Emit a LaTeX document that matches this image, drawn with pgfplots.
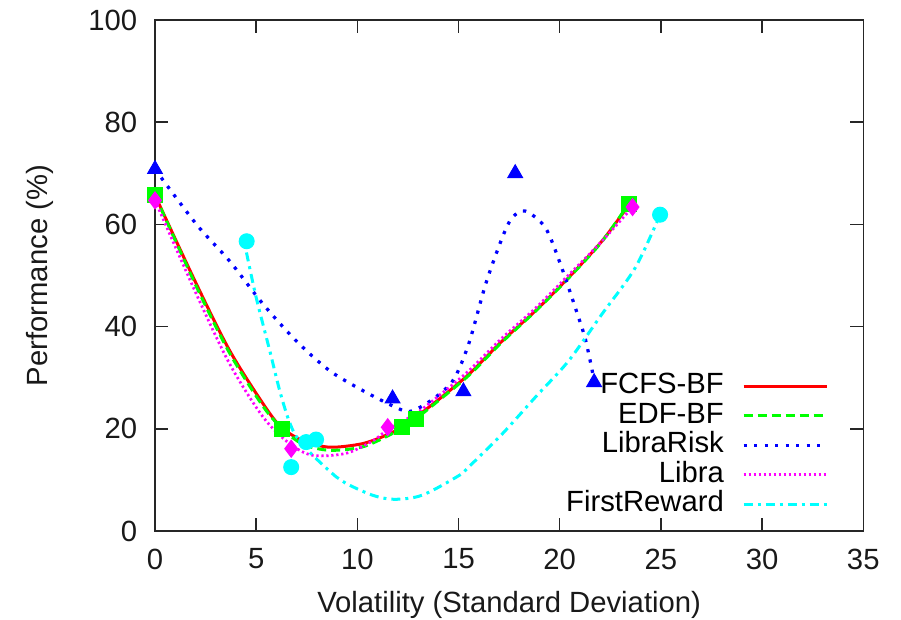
\documentclass[border=0pt]{standalone}
\usepackage{pgfplots}
\pgfplotsset{compat=1.18}
\usepackage{fontspec}
\setmainfont{Liberation Sans}

\definecolor{gpred}{RGB}{255,0,0}
\definecolor{gpgreen}{RGB}{0,255,0}
\definecolor{gpblue}{RGB}{0,0,255}
\definecolor{gpmagenta}{RGB}{255,0,255}
\definecolor{gpcyan}{RGB}{0,255,255}

% gnuplot-like styles
\tikzset{
  fcfs/.style={gpred, line width=1.2pt, solid},
  edf/.style={gpgreen, line width=1.2pt, dash pattern=on 3.6pt off 2pt},
  lrisk/.style={gpblue, line width=1.3pt, dash pattern=on 1.3pt off 2.9pt},
  libra/.style={gpmagenta, line width=1.1pt, dash pattern=on 0.9pt off 1.1pt},
  frew/.style={gpcyan, line width=1.2pt, dash pattern=on 3.6pt off 2pt on 1.2pt off 2pt},
}

\begin{document}
\begin{tikzpicture}
  \begin{axis}[
      scale only axis,
      width=283.3pt, height=204.4pt,
      xmin=0, xmax=35, ymin=0, ymax=100,
      xtick={0,5,...,35}, ytick={0,20,...,100},
      tick align=inside, major tick length=5.2pt,
      axis line style={black!85, line width=0.6pt},
      every tick/.style={black!85, line width=0.6pt},
      /pgf/number format/assume math mode=true,
      tick label style={font=\fontsize{11.7}{13.5}\selectfont, black!90},
      label style={font=\fontsize{11.7}{13.5}\selectfont, black!90},
      xticklabel style={yshift=-3.6pt},
      yticklabel style={xshift=-3.6pt},
      xlabel={Volatility (Standard Deviation)},
      ylabel={Performance (\%)},
      xlabel style={yshift=-2pt},
      ylabel style={yshift=7pt},
      legend style={at={(axis cs:33.7,32.3)}, anchor=north east, draw=none, fill=none,
        font=\fontsize{11.7}{13.5}\selectfont, row sep=0pt, column sep=6.8pt,
        nodes={inner sep=0.45pt, text height=8.5pt, text depth=2.4pt}},
      legend cell align=right,
      legend plot pos=right,
      legend image code/.code={\draw[#1] (0pt,0pt) -- (33.5pt,0pt);},
    ]
    % FCFS-BF
    \addplot[fcfs, smooth, no marks] coordinates {
      (0,65.7) (2.05,48.3) (3.69,35.3) (5.34,24.9) (6.24,20.3) (7.3,17.7) (8.62,16.4)
      (10.26,17.1) (11.58,19.0) (12.15,20.3) (12.8,22.0) (14.04,25.8) (15.52,30.7)
      (17.16,37.2) (18.8,43.1) (20.44,49.6) (22.08,56.7) (23.4,63.7)};
    \addlegendentry{FCFS-BF}
    % EDF-BF
    \addplot[edf, smooth, no marks] coordinates {
      (0,65.7) (2.05,47.8) (3.69,34.8) (5.34,24.4) (6.3,20.0) (7.3,17.0) (8.6,15.8)
      (10.2,16.4) (11.5,18.6) (12.23,20.3) (12.9,22.0) (14.04,25.6) (15.52,30.5)
      (17.16,37.0) (18.8,43.0) (20.44,49.5) (22.08,56.6) (23.4,64.0)};
    \addlegendentry{EDF-BF}
    \addplot[only marks, mark=square*, mark size=3pt, gpgreen, forget plot] coordinates {
      (0,65.7) (6.3,20.0) (12.23,20.3) (12.9,22.0) (23.4,64.0)};
    % LibraRisk
    \addplot[lrisk, smooth, no marks] coordinates {
      (0,70.8) (2.05,60.0) (3.69,52.8) (5.34,44.4) (6.98,37.2) (8.62,31.4) (10.26,27.5)
      (11.9,24.2) (12.6,23.4) (13.55,25.3) (14.7,29.3) (15.5,36.6) (16.34,48.3)
      (17.16,57.4) (17.65,61.3) (18.3,62.6) (19.3,59.3) (20.1,51.5) (20.77,43.7)
      (21.27,37.5) (21.7,29.5)};
    \addlegendentry{LibraRisk}
    \addplot[only marks, mark=triangle*, mark size=3.4pt, gpblue, forget plot] coordinates {
      (0,70.8) (11.74,25.9) (15.24,27.3) (17.8,70.0) (21.7,29.1)};
    % Libra
    \addplot[libra, smooth, no marks] coordinates {
      (0,64.7) (2.05,46.3) (3.69,32.7) (5.34,22.3) (6.65,17.1) (7.8,14.8) (9.44,15.2)
      (10.75,17.6) (11.5,19.8) (12.9,23.0) (14.04,26.5) (15.52,31.4) (17.16,37.8)
      (18.8,43.6) (20.44,50.1) (22.08,56.7) (23.6,63.4)};
    \addlegendentry{Libra}
    \addplot[only marks, mark=diamond*, mark size=3.4pt, gpmagenta, forget plot] coordinates {
      (0,64.7) (6.73,16.1) (11.5,20.3) (23.6,63.4)};
    % FirstReward
    \addplot[frew, smooth, no marks] coordinates {
      (4.52,54.5) (5.0,45.7) (5.67,35.3) (6.16,27.5) (6.6,21.8) (7.0,18.4) (7.8,14.8)
      (8.95,10.6) (9.44,9.3) (10.75,7.0) (11.82,6.2) (13.2,7.0) (15.0,10.8) (15.52,12.6)
      (17.16,19.0) (18.8,26.2) (20.44,33.3) (22.08,42.4) (23.73,51.5) (24.96,61.9)};
    \addlegendentry{FirstReward}
    \addplot[only marks, mark=*, mark size=3pt, gpcyan, forget plot] coordinates {
      (4.53,56.7) (6.73,12.5) (7.47,17.4) (7.96,17.9) (24.96,61.9)};
    \coordinate (sw) at (rel axis cs:0,0);
    \coordinate (ne) at (rel axis cs:1,1);
  \end{axis}
  \pgfresetboundingbox
  \path ([shift={(-62pt,-35.6pt)}]sw) rectangle ([shift={(15.1pt,8pt)}]ne);
\end{tikzpicture}
\end{document}
